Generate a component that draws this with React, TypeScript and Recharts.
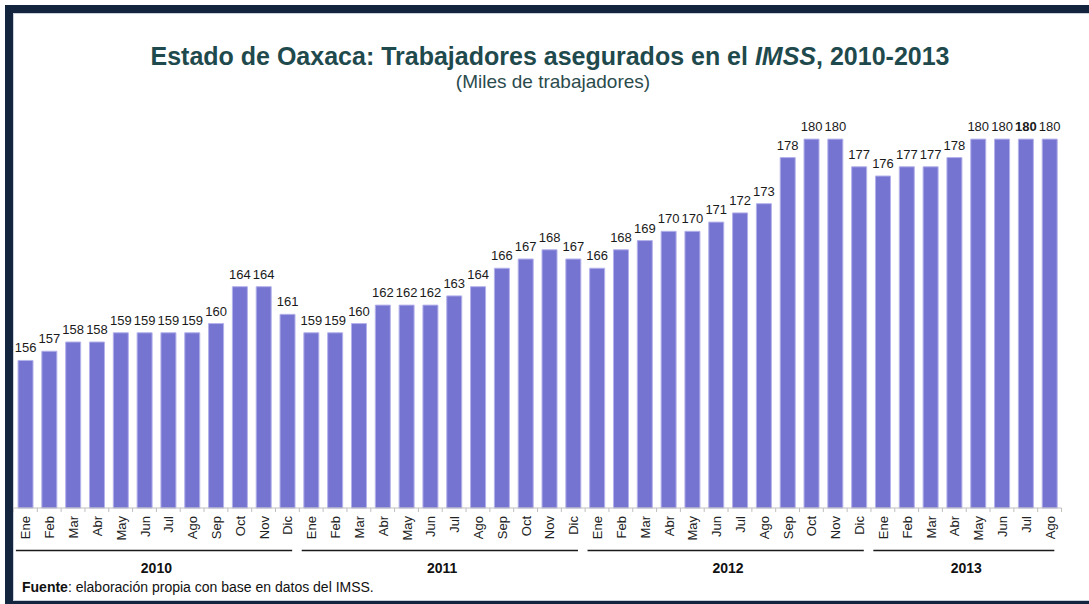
import { BarChart, Bar, XAxis, YAxis, LabelList } from "recharts";

const MONTHS = ["Ene", "Feb", "Mar", "Abr", "May", "Jun", "Jul", "Ago", "Sep", "Oct", "Nov", "Dic"];
const YEARS = ["2010", "2011", "2012", "2013"];

// miles de trabajadores
const VALUES_2010 = [156, 157, 158, 158, 159, 159, 159, 159, 160, 164, 164, 161];
const VALUES_2011 = [159, 159, 160, 162, 162, 162, 163, 164, 166, 167, 168, 167];
const VALUES_2012 = [166, 168, 169, 170, 170, 171, 172, 173, 178, 180, 180, 177];
const VALUES_2013 = [176, 177, 177, 178, 180, 180, 180, 180];
const SERIES = [VALUES_2010, VALUES_2011, VALUES_2012, VALUES_2013];

const BOLD_KEY = "Jul-2013";

const data = SERIES.flatMap((vals, yi) =>
  vals.map((v, mi) => ({
    key: `${MONTHS[mi]}-${YEARS[yi]}`,
    month: MONTHS[mi],
    year: YEARS[yi],
    v,
  }))
);

const W = 1089;
const H = 604;
const M_LEFT = 13.5;
const M_RIGHT = 27.5;
const BW = (W - M_LEFT - M_RIGHT) / data.length;
const FONT = "Arial, 'Liberation Sans', sans-serif";

// eslint-disable-next-line @typescript-eslint/no-explicit-any
function MonthTick({ x, y, payload, index }: any) {
  const m = data[payload.index ?? index]?.month ?? "";
  const last = (payload.index ?? index) === data.length - 1;
  return (
    <g>
      <line x1={x - BW / 2} x2={x - BW / 2} y1={y} y2={y + 4} stroke="#bfbfbf" />
      {last && <line x1={x + BW / 2} x2={x + BW / 2} y1={y} y2={y + 4} stroke="#bfbfbf" />}
      <text
        x={0}
        y={0}
        transform={`translate(${x + 5},${y + 8}) rotate(-90)`}
        textAnchor="end"
        fontSize={13}
        fontFamily={FONT}
        fill="#222"
      >
        {m}
      </text>
    </g>
  );
}

// eslint-disable-next-line @typescript-eslint/no-explicit-any
function YearTick({ x, y, payload, index }: any) {
  const i = payload.index ?? index;
  const row = data[i];
  if (!row || row.month !== "Ene") return null;
  const n = data.filter((d) => d.year === row.year).length;
  const x0 = x - BW / 2 + BW * 0.1;
  const x1 = x - BW / 2 + BW * n - BW * 0.3;
  const cx = x - BW / 2 + (BW * n) / 2;
  return (
    <g>
      <line x1={x0} x2={x1} y1={y - 1.5} y2={y - 1.5} stroke="#1a1a1a" strokeWidth={1.5} />
      <text x={cx} y={y + 21} textAnchor="middle" fontSize={14} fontWeight="bold" fontFamily={FONT} fill="#111">
        {row.year}
      </text>
    </g>
  );
}

// eslint-disable-next-line @typescript-eslint/no-explicit-any
function ValueLabel({ x, y, width, value, index }: any) {
  const bold = data[index]?.key === BOLD_KEY;
  return (
    <text
      x={x + width / 2}
      y={y - 8}
      textAnchor="middle"
      fontSize={13}
      fontWeight={bold ? "bold" : "normal"}
      fontFamily={FONT}
      fill="#1a1a1a"
    >
      {value}
    </text>
  );
}

export default function App() {
  return (
    <div style={{ position: "absolute", left: 0, top: 0, width: W, height: H, overflow: "hidden", background: "#fff", fontFamily: FONT }}>
      <div
        style={{
          position: "absolute",
          left: 5,
          top: 5,
          width: 1200,
          height: 604,
          borderTop: "8px solid #13243f",
          borderLeft: "8px solid #13243f",
          borderBottom: "8px solid #13243f",
          boxSizing: "border-box",
        }}
      >
        <div style={{ position: "absolute", inset: 0, borderTop: "1px solid #c9d0da", borderLeft: "1px solid #c9d0da", borderBottom: "1px solid #c9d0da" }} />
      </div>
      <div
        style={{
          position: "absolute",
          left: 0,
          width: 1100,
          top: 41,
          textAlign: "center",
          fontSize: 25,
          fontWeight: "bold",
          color: "#1f4a4d",
          lineHeight: "30px",
          whiteSpace: "nowrap",
        }}
      >
        Estado de Oaxaca: Trabajadores asegurados en el <i>IMSS</i>, 2010-2013
      </div>
      <div
        style={{
          position: "absolute",
          left: 0,
          width: 1106,
          top: 71,
          textAlign: "center",
          fontSize: 19,
          color: "#2b4b4d",
          lineHeight: "22px",
          whiteSpace: "nowrap",
        }}
      >
        (Miles de trabajadores)
      </div>
      <div style={{ position: "absolute", left: 0, top: 0 }}>
        <BarChart
          width={W}
          height={H}
          data={data}
          margin={{ top: 93, right: M_RIGHT, left: M_LEFT, bottom: 0 }}
          barCategoryGap="19%"
        >
          <YAxis hide domain={[140, 185]} />
          <XAxis
            dataKey="key"
            height={44}
            interval={0}
            tickLine={false}
            tickSize={0}
            tickMargin={0}
            axisLine={{ stroke: "#bfbfbf" }}
            tick={<MonthTick />}
          />
          <XAxis
            xAxisId="yr"
            dataKey="key"
            height={52}
            interval={0}
            tickLine={false}
            tickSize={0}
            tickMargin={0}
            axisLine={false}
            tick={<YearTick />}
          />
          <Bar dataKey="v" fill="#7674d1" stroke="#b4b2ea" strokeWidth={1} isAnimationActive={false}>
            <LabelList dataKey="v" content={<ValueLabel />} />
          </Bar>
        </BarChart>
      </div>
      <div
        style={{
          position: "absolute",
          left: 22,
          top: 579,
          fontSize: 14,
          color: "#111",
          lineHeight: "16px",
          whiteSpace: "nowrap",
        }}
      >
        <b>Fuente</b>: elaboración propia con base en datos del IMSS.
      </div>
    </div>
  );
}
